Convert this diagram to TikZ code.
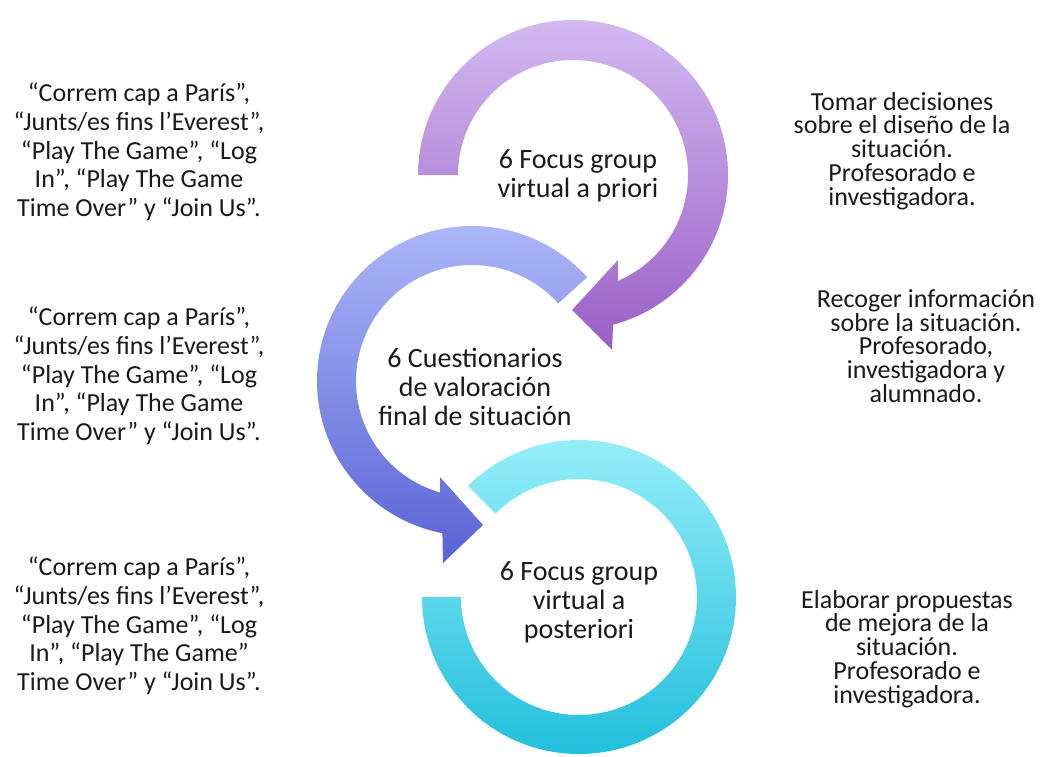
\documentclass[tikz,border=0pt]{standalone}
\usepackage{fontspec}
\setmainfont{Carlito}
\usetikzlibrary{calc}
\definecolor{pTop}{HTML}{D3B9F1}
\definecolor{pBot}{HTML}{9A5FC6}
\definecolor{bTop}{HTML}{B0BAFA}
\definecolor{bBot}{HTML}{5863D5}
\definecolor{cTop}{HTML}{95EEF9}
\definecolor{cBot}{HTML}{22BFDC}
\definecolor{ink}{HTML}{1A1A1A}
\begin{document}
\begin{tikzpicture}[x=1pt,y=1pt,
  sidetext/.style={align=center, text=ink, inner sep=0pt,
    font=\fontsize{26}{28.7}\selectfont},
  roletext/.style={align=center, text=ink, inner sep=0pt,
    font=\fontsize{26}{23.8}\selectfont},
  steptext/.style={align=center, text=ink, inner sep=0pt,
    font=\fontsize{28}{29}\selectfont}]
\useasboundingbox[fill=white] (0,0) rectangle (1050,756);

% ring centres
\coordinate (pc) at (573,581);
\coordinate (bc) at (472,375);
\coordinate (cc) at (579,159);

% blue circular arrow (middle)
\shade[top color=bTop, bottom color=bBot]
  ($(bc)+(42:155)$) arc[start angle=42, end angle=259, radius=155]
  -- (443,193) -- (483,231) -- (440,279)
  -- ($(bc)+(254:116)$) arc[start angle=254, end angle=42, radius=116] -- cycle;

% purple circular arrow (top)
\shade[top color=pTop, bottom color=pBot]
  ($(pc)+(180:155)$) arc[start angle=180, end angle=-75, radius=155]
  -- (612,406) -- (572,446) -- (618,496)
  -- ($(pc)+(-67:115)$) arc[start angle=-67, end angle=180, radius=115] -- cycle;

% cyan open ring (bottom)
\shade[top color=cTop, bottom color=cBot]
  ($(cc)+(180:157)$) arc[start angle=180, end angle=495, radius=157]
  -- ($(cc)+(135:118)$) arc[start angle=495, end angle=180, radius=118] -- cycle;

% step labels inside the rings
\node[steptext] (s1) at (578,580) {6 Focus group\\virtual a priori};
\node[steptext] (s2) at (475,369) {6 Cuestionarios\\de valoración\\final de situación};
\node[steptext] (s3) at (579,154) {6 Focus group\\virtual a\\posteriori};

% situations on the left
\node[sidetext] (l1) at (139,604) {“Correm cap a París”,\\“Junts/es fins l’Everest”,\\“Play The Game”, “Log\\In”, “Play The Game\\Time Over” y “Join Us”.};
\node[sidetext] (l2) at (139,380) {“Correm cap a París”,\\“Junts/es fins l’Everest”,\\“Play The Game”, “Log\\In”, “Play The Game\\Time Over” y “Join Us”.};
\node[sidetext] (l3) at (139,130) {“Correm cap a París”,\\“Junts/es fins l’Everest”,\\“Play The Game”, “Log\\In”, “Play The Game”\\Time Over” y “Join Us”.};

% purposes and participants on the right
\node[roletext] (r1) at (902,605) {Tomar decisiones\\sobre el diseño de la\\situación.\\Profesorado e\\investigadora.};
\node[roletext] (r2) at (926,410) {Recoger información\\sobre la situación.\\Profesorado,\\investigadora y\\alumnado.};
\node[roletext] (r3) at (907,107) {Elaborar propuestas\\de mejora de la\\situación.\\Profesorado e\\investigadora.};
\end{tikzpicture}
\end{document}
